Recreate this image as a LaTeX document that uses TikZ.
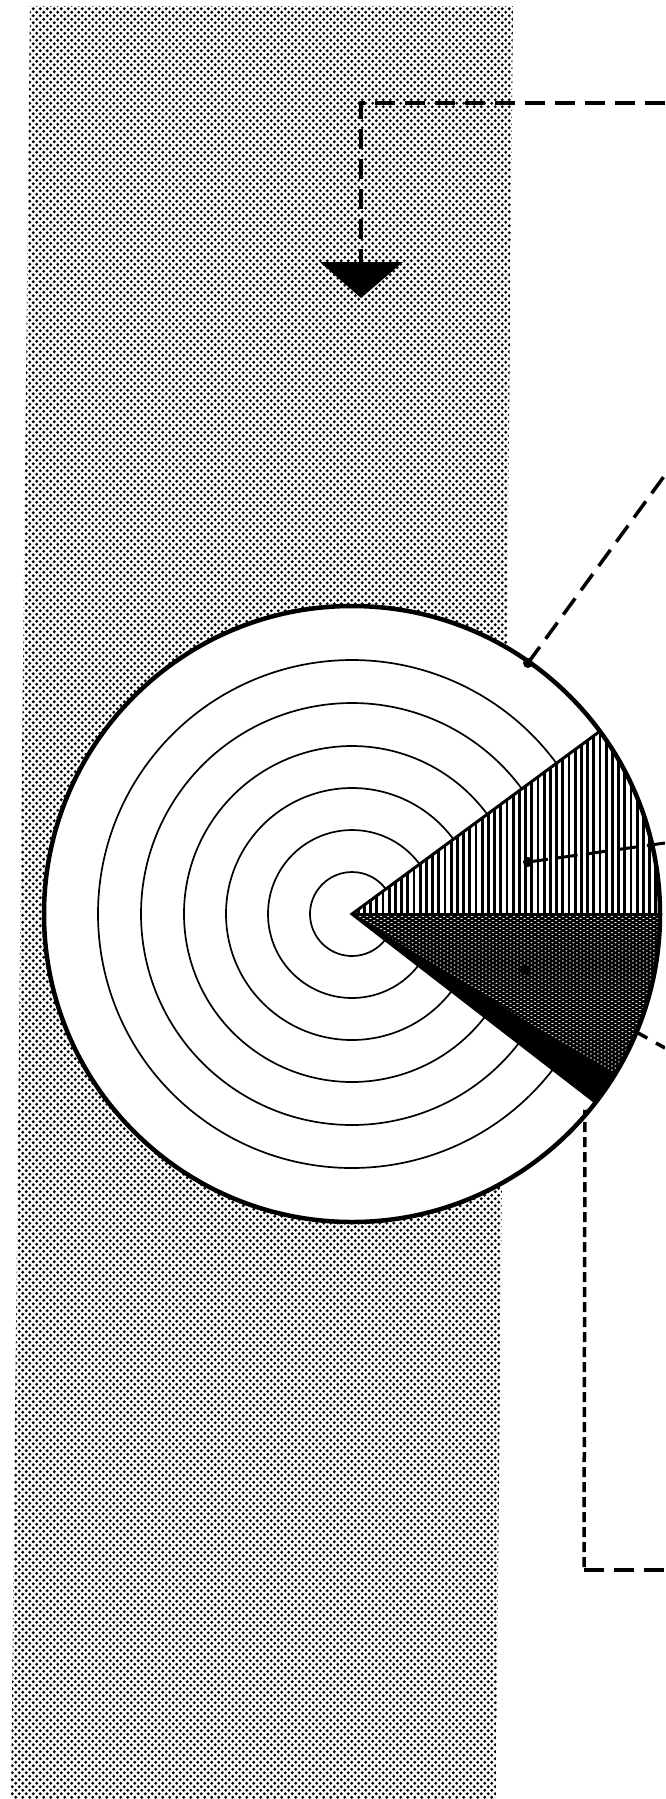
\documentclass[tikz,border=0pt]{standalone}
\usetikzlibrary{patterns,calc}
\pgfdeclarepatternformonly{halftone}{\pgfqpoint{-1pt}{-1pt}}{\pgfqpoint{8pt}{8pt}}{\pgfqpoint{7pt}{7pt}}{%
  \pgfpathcircle{\pgfqpoint{1.75pt}{1.75pt}}{1.6pt}%
  \pgfpathcircle{\pgfqpoint{5.25pt}{5.25pt}}{1.6pt}%
  \pgfusepath{fill}}
\tikzset{
  rim/.style={line width=4.5pt},
  ring/.style={line width=1.7pt},
  edge/.style={line width=3pt},
  longdash/.style={line width=3.5pt, dash pattern=on 20pt off 10pt},
  shortdash/.style={line width=3.5pt, dash pattern=on 10pt off 5pt},
  hatchline/.style={line width=2.8pt},
  crossline/.style={line width=2.1pt},
  spot/.style={fill=black}
}
\begin{document}
\begin{tikzpicture}[x=1pt,y=-1pt]
\useasboundingbox (0,0) rectangle (665,1799);
\fill[white] (0,0) rectangle (665,1799);
% stippled band
\fill[pattern=halftone] (30,6) -- (513,6) -- (496,1799) -- (11,1799) -- cycle;
% disc
\coordinate (C) at (352,914);
\fill[white] (C) circle[radius=308];
% upper sector: vertical hatching
\begin{scope}
  \clip (C) -- ++(0:308) arc[start angle=0, end angle=-36.4, radius=308] -- cycle;
  \foreach \k in {0,...,52} {
    \draw[hatchline] (352+6.2*\k,700) -- (352+6.2*\k,920);
  }
\end{scope}
% lower sector: cross hatching
\begin{scope}
  \clip (C) -- ++(0:308) arc[start angle=0, end angle=37.7, radius=308] -- cycle;
  \foreach \c in {-60,...,55} {
    \draw[crossline] (300,900+4.04*\c) -- (700,900+4.04*\c+231);
    \draw[crossline] (300,900+4.04*\c+231) -- (700,900+4.04*\c);
  }
  \fill (C) -- ($(C)+(31.5:330)$) -- ($(C)+(37.7:330)$) -- cycle;
\end{scope}
% rings
\foreach \r in {42,84,126,168,211,254} {
  \draw[ring] (C) ++(37.7:\r) arc[start angle=37.7, end angle=323.6, radius=\r];
}
% wedge edges
\draw[edge] ($(C)+(-36.4:308)$) -- (C) -- ($(C)+(37.7:308)$);
\draw[line width=1.5pt] (C) -- ++(0:308);
% outer rim
\draw[rim] (C) circle[radius=308];
% connectors
\coordinate (topexit) at (665,103);
\coordinate (topcorner) at (361,103);
\coordinate (arrowtop) at (361,262);
\draw[longdash] (topexit) -- (topcorner) -- (arrowtop);
\fill (320,262) -- (403,262) -- (361,298) -- cycle;

\coordinate (d1) at (528,663);
\coordinate (d1exit) at (665,475);
\draw[longdash] (d1) -- (d1exit);
\fill[spot] (d1) circle[radius=5];

\coordinate (d2) at (528,862);
\coordinate (d2exit) at (665,843);
\draw[longdash, line width=3pt] (d2) -- (d2exit);
\fill[spot] (d2) circle[radius=5];

\coordinate (d3) at (525,970);
\coordinate (d3exit) at (665,1048);
\begin{scope}[even odd rule]
  \clip (0,0) rectangle (665,1799) (C) circle[radius=310];
  \draw[longdash] (d3) -- (d3exit);
\end{scope}
\fill[spot] (d3) circle[radius=5];

\coordinate (d4) at (585,1107);
\coordinate (bcorner) at (584,1570);
\coordinate (bexit) at (665,1570);
\draw[shortdash] (d4) -- (bcorner);
\draw[longdash] (bcorner) -- (bexit);
\fill[white] (d4) circle[radius=3];
\end{tikzpicture}
\end{document}
